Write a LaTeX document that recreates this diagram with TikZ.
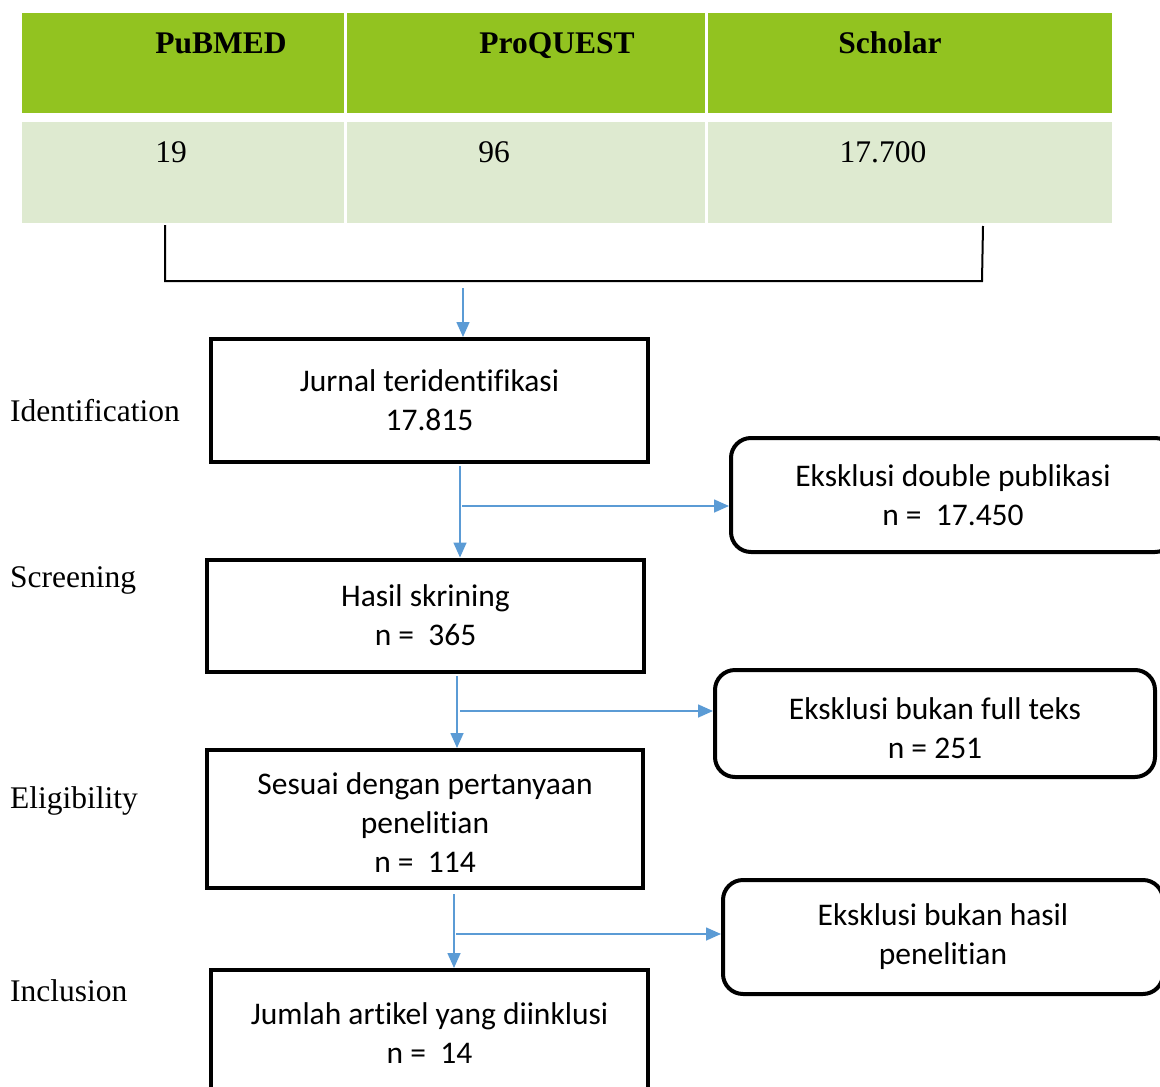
\documentclass[tikz,border=0pt]{standalone}
\usepackage{fontspec}
\setmainfont{Liberation Serif}
\newfontfamily\calfont[Ligatures=NoCommon]{Carlito}
\usetikzlibrary{arrows.meta,calc}
\definecolor{hdrgreen}{RGB}{146,195,32}
\definecolor{rowgreen}{RGB}{222,234,208}
\definecolor{arrblue}{RGB}{91,155,213}
\begin{document}
\begin{tikzpicture}[x=1pt,y=-1pt,
  hcell/.style={fill=hdrgreen,minimum height=100pt,inner sep=0pt,anchor=center},
  dcell/.style={fill=rowgreen,minimum height=101pt,inner sep=0pt,anchor=center},
  ttext/.style={font=\fontsize{31.5}{38}\selectfont,anchor=base},
  sidelbl/.style={font=\fontsize{31.5}{38}\selectfont,anchor=base west,inner sep=0pt},
  boxtext/.style={align=center,inner sep=0pt,font=\calfont\fontsize{31.5}{39}\selectfont},
  flowbox/.style={boxtext,draw=black,line width=4pt},
  exclbox/.style={flowbox,rounded corners=20pt},
  arr/.style={draw=arrblue,line width=1.6pt,-{Triangle[length=15pt,width=13pt]}},
  brk/.style={draw=black,line width=2pt}]
\useasboundingbox (0,0) rectangle (1160,1087);
\begin{scope}
\clip (0,0) rectangle (1160,1087);
% table
\node[hcell,minimum width=322pt] (h1) at (183,63) {};
\node[hcell,minimum width=358pt] (h2) at (526,63) {};
\node[hcell,minimum width=404pt] (h3) at (910,63) {};
\node[dcell,minimum width=322pt] (d1) at (183,172.5) {};
\node[dcell,minimum width=358pt] (d2) at (526,172.5) {};
\node[dcell,minimum width=404pt] (d3) at (910,172.5) {};
\node[ttext] (th1) at (221,53) {\textbf{PuBMED}};
\node[ttext] (th2) at (557,53) {\textbf{ProQUEST}};
\node[ttext] (th3) at (890,53) {\textbf{Scholar}};
\node[ttext] (td1) at (171,162) {19};
\node[ttext] (td2) at (494,162) {96};
\node[ttext] (td3) at (883,162) {17.700};
% side labels
\node[sidelbl] (l1) at (10,421) {Identification};
\node[sidelbl] (l2) at (10,587) {Screening};
\node[sidelbl] (l3) at (10,808) {Eligibility};
\node[sidelbl] (l4) at (10,1001) {Inclusion};
% boxes
\node[flowbox,minimum width=437pt,minimum height=123pt] (b1) at (429.5,400.5)
  {Jurnal teridentifikasi\\17.815};
\node[flowbox,minimum width=437pt,minimum height=112pt] (b2) at (425.5,615.5)
  {Hasil skrining\\n =\ \ 365};
\node[flowbox,minimum width=436pt,minimum height=138pt] (b3) at (425,819) {};
\node[boxtext] (b3t) at (425,823)
  {Sesuai dengan pertanyaan\\penelitian\\n =\ \ 114};
\node[flowbox,minimum width=437pt,minimum height=127pt] (b4) at (429.5,1033.5)
  {Jumlah artikel yang diinklusi\\n =\ \ 14};
\node[exclbox,minimum width=444pt,minimum height=114pt] (e1) at (953,495)
  {Eksklusi double publikasi\\n =\ \ 17.450};
\node[exclbox,minimum width=440pt,minimum height=107pt] (e2) at (935,723.5) {};
\node[boxtext] (e2t) at (935,728)
  {Eksklusi bukan full teks\\n = 251};
\node[exclbox,minimum width=440pt,minimum height=114pt] (e3) at (943,937)
  {Eksklusi bukan hasil\\penelitian};
% bracket
\coordinate (bl) at (165,225);
\coordinate (br) at (983,226);
\draw[brk] (bl) -- (bl |- 0,281) -- (982,281) -- (br);
% arrows
\coordinate (t0) at (463,288);
\draw[arr] (t0) -- (t0 |- b1.north);
\coordinate (a1) at (460,466);
\draw[arr] (a1) -- (a1 |- b2.north);
\coordinate (c1) at (462,506);
\draw[arr] (c1) -- (c1 -| e1.west);
\coordinate (a2) at (457,676);
\draw[arr] (a2) -- (a2 |- b3.north);
\coordinate (c2) at (460,711);
\draw[arr] (c2) -- (c2 -| e2.west);
\coordinate (a3) at (454,894);
\draw[arr] (a3) -- (a3 |- b4.north);
\coordinate (c3) at (456,934);
\draw[arr] (c3) -- (c3 -| e3.west);
\end{scope}
\end{tikzpicture}
\end{document}
